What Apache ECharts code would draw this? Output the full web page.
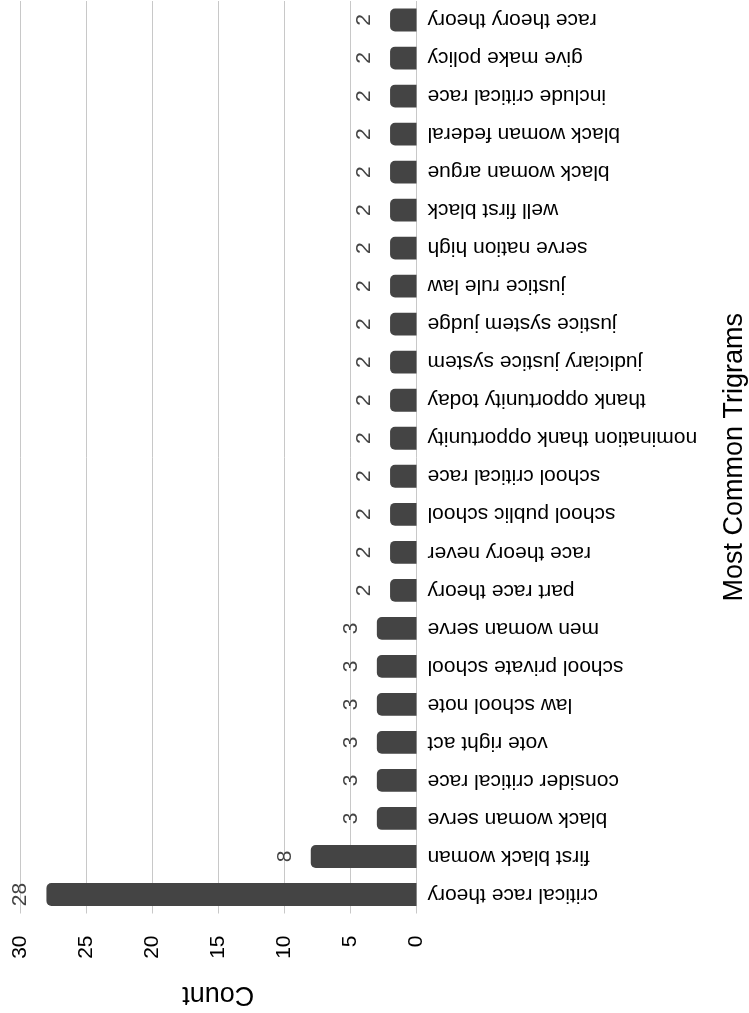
<!DOCTYPE html>
<html>
<head>
<meta charset="utf-8">
<script src="https://cdn.jsdelivr.net/npm/echarts@6/dist/echarts.min.js"></script>
<style>
  html, body { margin: 0; padding: 0; background: #fff; }
  #chart { width: 749px; height: 1013px; }
</style>
</head>
<body>
<div id="chart"></div>
<script>
// Trigram labels, listed from the bottom bar upward
const trigrams = [
  'critical race theory', 'first black woman', 'black woman serve',
  'consider critical race', 'vote right act', 'law school note',
  'school private school', 'men woman serve', 'part race theory',
  'race theory never', 'school public school', 'school critical race',
  'nomination thank opportunity', 'thank opportunity today',
  'judiciary justice system', 'justice system judge', 'justice rule law',
  'serve nation high', 'well first black', 'black woman argue',
  'black woman federal', 'include critical race', 'give make policy',
  'race theory theory'
];
const counts = [28, 8, 3, 3, 3, 3, 3, 3, 2, 2, 2, 2, 2, 2, 2, 2, 2, 2, 2, 2, 2, 2, 2, 2];
const countTicks = [0, 5, 10, 15, 20, 25, 30];

const FONT = '"Liberation Sans", Arial, Helvetica, sans-serif';

const chart = echarts.init(document.getElementById('chart'), null, { renderer: 'canvas' });
chart.setOption({
  animation: false,
  backgroundColor: '#ffffff',
  grid: {
    left: 20, right: 332.5, top: 1, bottom: 99.5,
    containLabel: false,
    outerBoundsMode: 'none'
  },
  xAxis: {
    type: 'value',
    position: 'bottom',
    inverse: true,
    min: countTicks[0],
    max: countTicks[countTicks.length - 1],
    interval: countTicks[1] - countTicks[0],
    name: 'Count',
    nameLocation: 'middle',
    nameRotate: 180,
    nameGap: 67,
    nameTextStyle: { fontFamily: FONT, fontSize: 27, color: '#000' },
    axisLine: { show: false },
    axisTick: { show: false },
    axisLabel: { rotate: 90, margin: 22, fontFamily: FONT, fontSize: 21, color: '#000' },
    splitLine: { show: true, lineStyle: { color: '#c8c8c8', width: 1 } }
  },
  yAxis: {
    type: 'category',
    position: 'right',
    data: trigrams,
    name: 'Most Common Trigrams',
    nameLocation: 'middle',
    nameRotate: 90,
    nameGap: 305,
    nameTextStyle: { fontFamily: FONT, fontSize: 27, color: '#000' },
    axisLine: { show: false },
    axisTick: { show: false },
    axisLabel: { rotate: 180, margin: 11, fontFamily: FONT, fontSize: 21, color: '#000' }
  },
  series: [{
    type: 'bar',
    data: counts,
    barCategoryGap: '40%',
    itemStyle: { color: '#444444', borderRadius: [5, 0, 0, 5] },
    label: {
      show: true,
      position: 'outside',
      distance: 26,
      rotate: 90,
      align: 'center',
      verticalAlign: 'middle',
      fontFamily: FONT,
      fontSize: 21,
      color: '#444'
    }
  }]
});
</script>
</body>
</html>
